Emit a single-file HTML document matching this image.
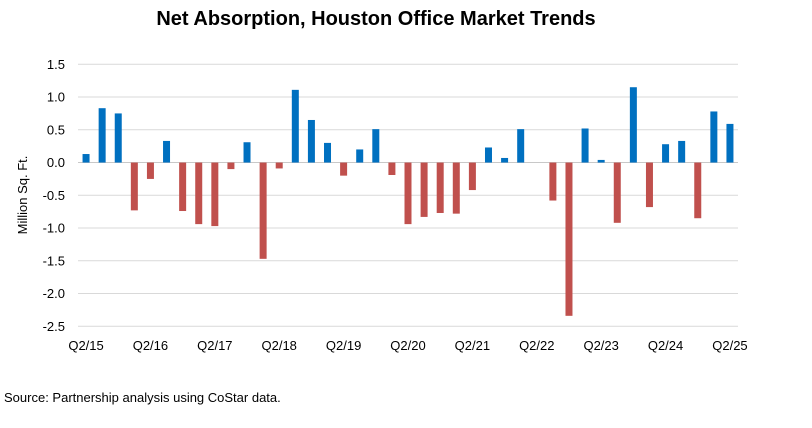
<!DOCTYPE html>
<html><head><meta charset="utf-8"><style>
body{margin:0;background:#fff;font-family:"Liberation Sans",Calibri,sans-serif}
</style></head><body>
<svg width="812" height="423" xmlns="http://www.w3.org/2000/svg">
<rect width="812" height="423" fill="#fff"/>
<text x="376" y="25" text-anchor="middle" font-size="20" font-weight="bold" fill="#000">Net Absorption, Houston Office Market Trends</text>
<text transform="translate(27,195) rotate(-90)" text-anchor="middle" font-size="13" fill="#000">Million Sq. Ft.</text>
<text x="4" y="402" font-size="13" fill="#000">Source: Partnership analysis using CoStar data.</text>
<g id="grid"></g><g id="bars"></g><g id="labels"></g>
</svg>
<script>
const quarters=["Q2/15","Q3/15","Q4/15","Q1/16","Q2/16","Q3/16","Q4/16","Q1/17","Q2/17","Q3/17","Q4/17","Q1/18","Q2/18","Q3/18","Q4/18","Q1/19","Q2/19","Q3/19","Q4/19","Q1/20","Q2/20","Q3/20","Q4/20","Q1/21","Q2/21","Q3/21","Q4/21","Q1/22","Q2/22","Q3/22","Q4/22","Q1/23","Q2/23","Q3/23","Q4/23","Q1/24","Q2/24","Q3/24","Q4/24","Q1/25","Q2/25"];
const absorption=[0.13,0.83,0.75,-0.73,-0.25,0.33,-0.74,-0.94,-0.97,-0.10,0.31,-1.47,-0.09,1.11,0.65,0.30,-0.20,0.20,0.51,-0.19,-0.94,-0.83,-0.77,-0.78,-0.42,0.23,0.07,0.51,0,-0.58,-2.34,0.52,0.04,-0.92,1.15,-0.68,0.28,0.33,-0.85,0.78,0.59];
const yTicks=[1.5,1.0,0.5,0.0,-0.5,-1.0,-1.5,-2.0,-2.5];
const xLabels=["Q2/15","Q2/16","Q2/17","Q2/18","Q2/19","Q2/20","Q2/21","Q2/22","Q2/23","Q2/24","Q2/25"];
const NS="http://www.w3.org/2000/svg";
const plotLeft=78,plotRight=738,yMax=1.5,yMin=-2.5,plotTop=64.3,plotBottom=326.3;
const step=(plotRight-plotLeft)/quarters.length;
const xPos=i=>plotLeft+step*(i+0.5);
const yPos=v=>plotTop+(yMax-v)/(yMax-yMin)*(plotBottom-plotTop);
const grid=document.getElementById('grid'),bars=document.getElementById('bars'),labels=document.getElementById('labels');
yTicks.forEach(t=>{
 const l=document.createElementNS(NS,'line');
 l.setAttribute('x1',plotLeft);l.setAttribute('x2',plotRight);l.setAttribute('y1',yPos(t));l.setAttribute('y2',yPos(t));
 l.setAttribute('stroke',t===0?'#c8c8c8':'#d9d9d9');l.setAttribute('stroke-width','1');
 
 
 grid.appendChild(l);
 const tx=document.createElementNS(NS,'text');
 tx.setAttribute('x',65);tx.setAttribute('y',yPos(t)+4.5);tx.setAttribute('text-anchor','end');tx.setAttribute('font-size','13');
 tx.textContent=t.toFixed(1);
 
 
 labels.appendChild(tx);
});
absorption.forEach((v,i)=>{
 const r=document.createElementNS(NS,'rect');
 const y0=yPos(0),yv=yPos(v);
 r.setAttribute('x',xPos(i)-3.5);r.setAttribute('width',7);
 r.setAttribute('y',Math.min(y0,yv));r.setAttribute('height',Math.abs(yv-y0));
 r.setAttribute('fill',v>=0?'#0070C0':'#C0504D');
 
 
 bars.appendChild(r);
});
xLabels.forEach(q=>{
 const i=quarters.indexOf(q);
 const tx=document.createElementNS(NS,'text');
 tx.setAttribute('x',xPos(i));tx.setAttribute('y',350);tx.setAttribute('text-anchor','middle');tx.setAttribute('font-size','13');
 tx.textContent=q;
 
 
 labels.appendChild(tx);
});
</script>
</body></html>
